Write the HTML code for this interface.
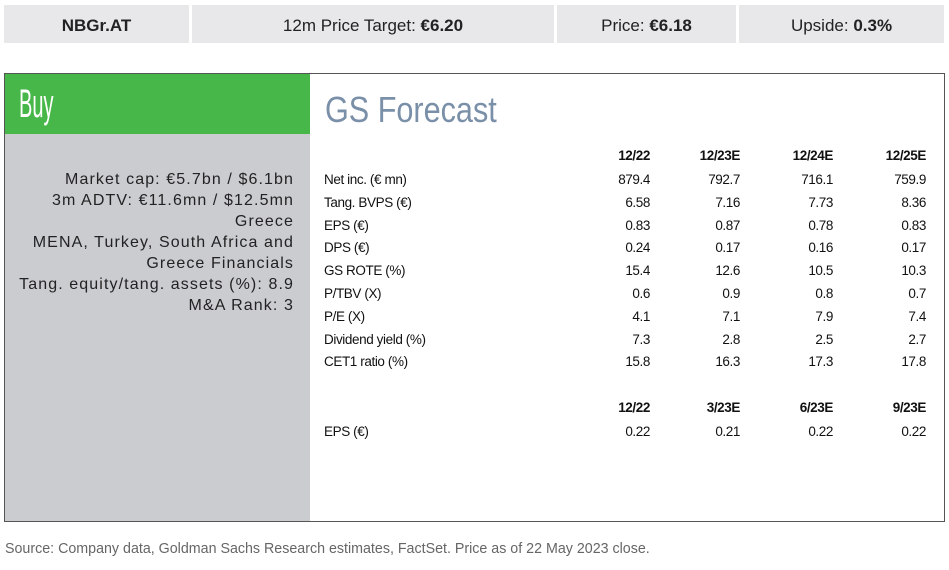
<!DOCTYPE html>
<html><head><meta charset="utf-8">
<style>
body{margin:0;width:949px;height:570px;background:#fff;font-family:"Liberation Sans",sans-serif;position:relative;overflow:hidden;color:#111}
.abs{position:absolute}
.cell{position:absolute;top:5px;height:38px;background:#e8e8ea;font-size:17px;line-height:42px;text-align:center;color:#222}
.t{position:absolute;font-size:13.5px;letter-spacing:-0.4px;white-space:nowrap}
.r{text-align:right;width:80px}
.l{position:absolute;right:655px;font-size:16px;white-space:nowrap;color:#222;letter-spacing:1.1px}
</style></head><body>
<div class="cell" style="left:4px;width:185px;font-weight:bold">NBGr.AT</div>
<div class="cell" style="left:192px;width:362px">12m Price Target: <b>€6.20</b></div>
<div class="cell" style="left:557px;width:179px">Price: <b>€6.18</b></div>
<div class="cell" style="left:739px;width:205px">Upside: <b>0.3%</b></div>

<div class="abs" style="left:4px;top:73px;width:939px;height:447px;border:1px solid #555"></div>
<div class="abs" style="left:5px;top:74px;width:305px;height:60px;background:#48b749"></div>
<div class="abs" style="left:19px;top:80px;color:#fff;font-size:40px;line-height:48px;transform:scaleX(0.5);transform-origin:left">Buy</div>
<div class="abs" style="left:5px;top:134px;width:305px;height:387px;background:#cbccd0"></div>
<div class="l" style="top:171px">Market cap: €5.7bn / $6.1bn</div>
<div class="l" style="top:192px">3m ADTV: €11.6mn / $12.5mn</div>
<div class="l" style="top:213px">Greece</div>
<div class="l" style="top:234px">MENA, Turkey, South Africa and</div>
<div class="l" style="top:255px">Greece Financials</div>
<div class="l" style="top:276px">Tang. equity/tang. assets (%): 8.9</div>
<div class="l" style="top:297px">M&amp;A Rank: 3</div>

<div class="abs" style="left:325px;top:89px;font-size:36px;color:#7a8fa8;transform:scaleX(0.85);transform-origin:left;white-space:nowrap">GS Forecast</div>

<div id="tbl"></div>
<div class="abs" style="left:5px;top:540px;font-size:15px;color:#666;white-space:nowrap;transform:scaleX(0.95);transform-origin:left">Source: Company data, Goldman Sachs Research estimates, FactSet. Price as of 22 May 2023 close.</div>

<script>
const headers1=["12/22","12/23E","12/24E","12/25E"];
const rowLabels=["Net inc. (€ mn)","Tang. BVPS (€)","EPS (€)","DPS (€)","GS ROTE (%)","P/TBV (X)","P/E (X)","Dividend yield (%)","CET1 ratio (%)"];
const rowValues=[["879.4","792.7","716.1","759.9"],["6.58","7.16","7.73","8.36"],["0.83","0.87","0.78","0.83"],["0.24","0.17","0.16","0.17"],["15.4","12.6","10.5","10.3"],["0.6","0.9","0.8","0.7"],["4.1","7.1","7.9","7.4"],["7.3","2.8","2.5","2.7"],["15.8","16.3","17.3","17.8"]];
const headers2=["12/22","3/23E","6/23E","9/23E"];
const qLabels=["EPS (€)"];
const qValues=[["0.22","0.21","0.22","0.22"]];
const colRight=[650,740,833,926];
const tbl=document.getElementById('tbl');
function add(txt,x,y,right,bold,name){
  const d=document.createElement('div');
  d.className='t'+(right?' r':'');
  d.textContent=txt;
  d.style.top=(y-7)+'px';
  d.style.left=(right?x-80:x)+'px';
  if(bold)d.style.fontWeight='bold';
  
  
  tbl.appendChild(d);
}
headers1.forEach((h,i)=>add(h,colRight[i],155,true,true,'header-'+i));
rowLabels.forEach((lab,r)=>{
  const y=179+r*22.8;
  add(lab,324,y,false,false,'row-label');
  rowValues[r].forEach((v,i)=>add(v,colRight[i],y,true,false,'cell-value'));
});
headers2.forEach((h,i)=>add(h,colRight[i],407,true,true,'quarter-header-'+i));
qLabels.forEach((lab,r)=>{
  const y=431+r*22.8;
  add(lab,324,y,false,false,'quarter-row-label');
  qValues[r].forEach((v,i)=>add(v,colRight[i],y,true,false,'quarter-value'));
});
</script>
</body></html>
